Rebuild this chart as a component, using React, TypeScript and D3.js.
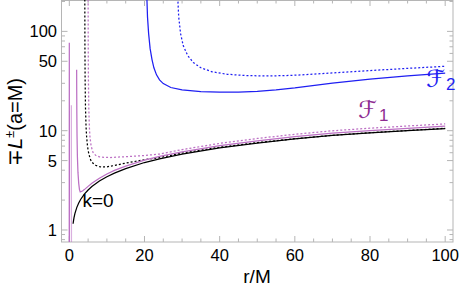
import React from "react";
import * as d3 from "d3";

// ∓L± vs r/M, a = M. Each series is a list of [r, L] pairs.
const k0Plus: [number, number][] = [
  [1.0, 1.155], [1.1, 1.23], [1.25, 1.33], [1.5, 1.47], [2, 1.69], [2.5, 1.87],
  [3, 2.03], [4, 2.3], [5, 2.53], [6, 2.74], [8, 3.11], [10, 3.44], [12, 3.74],
  [15, 4.15], [20, 4.78], [24, 5.2], [30, 5.8], [40, 6.7], [50, 7.5], [60, 8.25],
  [70, 8.95], [80, 9.5], [90, 10.0], [100, 10.5],
];
const k0Minus: [number, number][] = [
  [4.12, 230], [4.15, 75], [4.2, 34], [4.3, 17], [4.45, 11], [4.6, 8.7],
  [4.85, 6.9], [5.2, 5.8], [5.7, 5.05], [6.3, 4.7], [7, 4.48], [8, 4.35],
  [9, 4.31], [10, 4.33], [12, 4.46], [15, 4.72], [20, 5.1], [24, 5.35],
  [30, 5.95], [40, 6.82], [50, 7.58], [60, 8.3], [70, 8.98], [80, 9.55],
  [90, 10.05], [100, 10.56],
];
const f1Plus: [number, number][] = [
  [1.95, 41], [1.97, 25], [2.0, 15], [2.05, 9], [2.15, 5.5], [2.3, 3.8],
  [2.5, 2.95], [2.7, 2.55], [2.9, 2.42], [3.5, 2.47], [4, 2.55], [5, 2.75],
  [6, 2.95], [8, 3.32], [10, 3.66], [12, 3.98], [15, 4.4], [20, 5.05],
  [24, 5.5], [30, 6.12], [40, 7.07], [50, 7.91], [60, 8.7], [70, 9.44],
  [80, 10.02], [90, 10.55], [100, 11.1],
];
const f1SpikeA: [number, number][] = [[-0.02, 0.6], [0.0, 77], [0.03, 0.6]];
const f1SpikeB: [number, number][] = [[0.55, 18], [0.56, 0.6]];
const f1Minus: [number, number][] = [
  [5.0, 230], [5.03, 75], [5.08, 34], [5.18, 17], [5.33, 11], [5.5, 8.6],
  [5.8, 7.0], [6.3, 6.05], [7, 5.65], [8, 5.45], [9.5, 5.38], [11, 5.37],
  [13, 5.42], [16, 5.5], [20, 5.62], [24, 5.82], [30, 6.45], [40, 7.45],
  [50, 8.35], [60, 9.2], [70, 9.98], [80, 10.6], [90, 11.15], [100, 11.7],
];
const f2Plus: [number, number][] = [
  [20.6, 240], [20.8, 140], [21.1, 95], [21.5, 67], [22, 52], [22.5, 43],
  [23.2, 36.5], [24, 32.5], [25, 29.8], [27, 27.2], [30, 25.7], [35, 24.8],
  [40, 24.5], [45, 24.5], [50, 24.9], [55, 25.8], [60, 27.0], [70, 30.2],
  [80, 33.0], [90, 35.7], [100, 38.0],
];
const f2Minus: [number, number][] = [
  [28.8, 240], [29.1, 140], [29.6, 95], [30.3, 72], [31.5, 57], [33, 48.5],
  [35, 43], [38, 39.2], [42, 37], [47, 35.9], [52, 35.6], [57, 35.8],
  [62, 36.5], [70, 38.2], [80, 40.3], [90, 42.4], [100, 44.5],
];

const xMajor = [0, 20, 40, 60, 80, 100];
const xMinor = [5, 10, 15, 25, 30, 35, 45, 50, 55, 65, 70, 75, 85, 90, 95];
const yMajor = [1, 5, 10, 50, 100];
const yMinor = [0.8, 0.9, 2, 3, 4, 6, 7, 8, 9, 20, 30, 40, 60, 70, 80, 90, 200];

const BLACK = "#000000";
const PINK = "#BC70C4";
const BLUE = "#1F1FF2";
const FRAME = "#B5B5B5";
const FONT = "'Liberation Sans', Arial, sans-serif";

const left = 61.5, right = 453, top = 0, bottom = 242;

export default function App() {
  const x = d3.scaleLinear().domain([-2.08, 102.08]).range([left, right]);
  const y = d3.scaleLog().domain([0.757, 207]).range([bottom, top]);
  const line = d3
    .line<[number, number]>()
    .x((d) => x(d[0]))
    .y((d) => y(d[1]));

  const curves = [
    { d: k0Plus, c: BLACK, dash: undefined, o: 1 },
    { d: k0Minus, c: BLACK, dash: "2,2", o: 1 },
    { d: f1SpikeA, c: PINK, dash: undefined, o: 1 },
    { d: f1SpikeB, c: PINK, dash: undefined, o: 0.55 },
    { d: f1Plus, c: PINK, dash: undefined, o: 1 },
    { d: f1Minus, c: PINK, dash: "2,2", o: 1 },
    { d: f2Plus, c: BLUE, dash: undefined, o: 1 },
    { d: f2Minus, c: BLUE, dash: "2,2", o: 1 },
  ];

  return (
    <svg
      width={463}
      height={293}
      style={{ position: "absolute", left: 0, top: 0, background: "#fff" }}
      fontFamily={FONT}
    >
      <defs>
        <clipPath id="plot">
          <rect x={left} y={top} width={right - left} height={bottom - top} />
        </clipPath>
      </defs>

      {/* frame */}
      <rect x={left} y={top + 0.5} width={right - left} height={bottom - top - 0.5}
        fill="none" stroke={FRAME} strokeWidth={1} />

      {/* ticks on all four sides */}
      <g stroke={FRAME} strokeWidth={1}>
        {xMajor.map((t) => (
          <g key={"xM" + t}>
            <line x1={x(t)} x2={x(t)} y1={bottom} y2={bottom - 6} />
            <line x1={x(t)} x2={x(t)} y1={top} y2={top + 6} />
          </g>
        ))}
        {xMinor.map((t) => (
          <g key={"xm" + t}>
            <line x1={x(t)} x2={x(t)} y1={bottom} y2={bottom - 3.5} />
            <line x1={x(t)} x2={x(t)} y1={top} y2={top + 3.5} />
          </g>
        ))}
        {yMajor.map((t) => (
          <g key={"yM" + t}>
            <line x1={left} x2={left + 6} y1={y(t)} y2={y(t)} />
            <line x1={right} x2={right - 6} y1={y(t)} y2={y(t)} />
          </g>
        ))}
        {yMinor.map((t) => (
          <g key={"ym" + t}>
            <line x1={left} x2={left + 3.5} y1={y(t)} y2={y(t)} />
            <line x1={right} x2={right - 3.5} y1={y(t)} y2={y(t)} />
          </g>
        ))}
      </g>

      {/* curves */}
      <g clipPath="url(#plot)" fill="none">
        {curves.map((s, i) => (
          <path key={i} d={line(s.d) ?? ""} stroke={s.c} strokeWidth={1.25}
            strokeDasharray={s.dash} strokeOpacity={s.o} />
        ))}
      </g>

      {/* tick labels */}
      <g fontSize={16.5} fill="#000">
        {xMajor.map((t) => (
          <text key={"xl" + t} x={x(t)} y={261} textAnchor="middle">{t}</text>
        ))}
        {yMajor.map((t) => (
          <text key={"yl" + t} x={57} y={y(t)} dy="0.36em" textAnchor="end">{t}</text>
        ))}
      </g>

      {/* axis labels */}
      <text x={257} y={283} fontSize={19} textAnchor="middle">r/M</text>
      <text transform="translate(22,122) rotate(-90)" fontSize={20} textAnchor="middle">
        ∓<tspan fontStyle="italic">L</tspan>
        <tspan fontSize={13} dy={-8}>±</tspan>
        <tspan dy={8}>(a=M)</tspan>
      </text>

      {/* annotations */}
      <text x={82.5} y={206.5} fontSize={19}>k=0</text>
      <text x={358} y={118} fill="#8E2C92" fontSize={24} fontFamily="'DejaVu Sans', serif" fontStyle="italic">
        ℱ<tspan fontFamily={FONT} fontStyle="normal" fontSize={17} dx={2} dy={3}>1</tspan>
      </text>
      <text x={426} y={87} fill={BLUE} fontSize={24} fontFamily="'DejaVu Sans', serif" fontStyle="italic">
        ℱ<tspan fontFamily={FONT} fontStyle="normal" fontSize={17} dx={1} dy={3}>2</tspan>
      </text>
    </svg>
  );
}
